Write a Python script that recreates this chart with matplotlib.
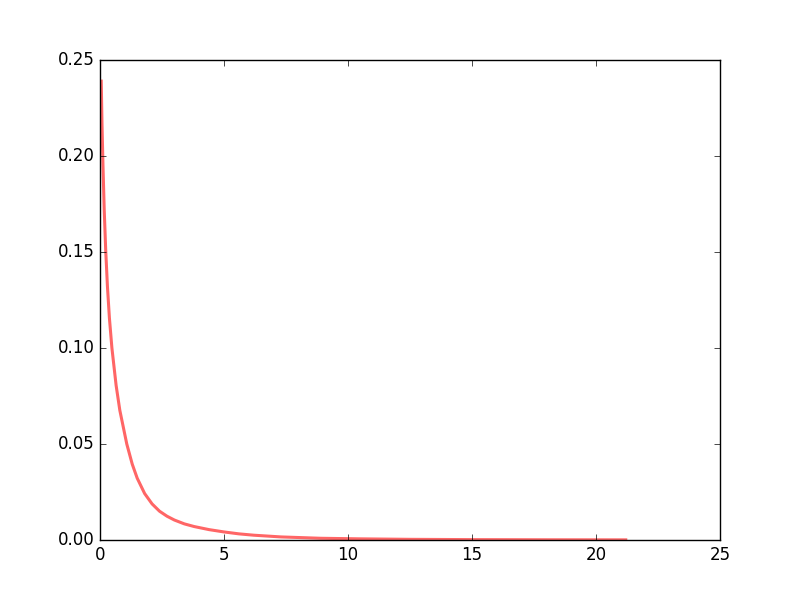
import matplotlib
matplotlib.use("Agg")
import matplotlib.pyplot as plt

plt.style.use("classic")

x_values = [0.05, 0.08, 0.12, 0.17, 0.23, 0.30, 0.38, 0.48, 0.65, 0.80, 1.08,
            1.3, 1.5, 1.8, 2.1, 2.4, 2.7, 3.0, 3.4, 3.8, 4.4, 5.0, 5.6,
            6.2, 7.3, 8.9, 10.5, 12.5, 15.0, 18.0, 21.2]
pdf_values = [0.239, 0.217, 0.195, 0.172, 0.151, 0.132, 0.1155, 0.100, 0.0805,
              0.0675, 0.050, 0.0395, 0.0322, 0.0242, 0.0188, 0.0150, 0.0124,
              0.0104, 0.0084, 0.0070, 0.0054, 0.0042, 0.0032, 0.0025, 0.0016,
              0.0009, 0.0006, 0.00035, 0.0002, 0.00012, 0.00008]

fig, ax = plt.subplots(figsize=(8, 6), dpi=100)
ax.plot(x_values, pdf_values, 'r-', lw=2.2, alpha=0.6)
ax.set_xlim(0, 25)
ax.set_ylim(0, 0.25)
ax.set_xticks([0, 5, 10, 15, 20, 25])
ax.set_yticks([0.0, 0.05, 0.10, 0.15, 0.20, 0.25])
ax.set_yticklabels(["0.00", "0.05", "0.10", "0.15", "0.20", "0.25"])
fig.savefig("out.png", dpi=100, facecolor="white")
